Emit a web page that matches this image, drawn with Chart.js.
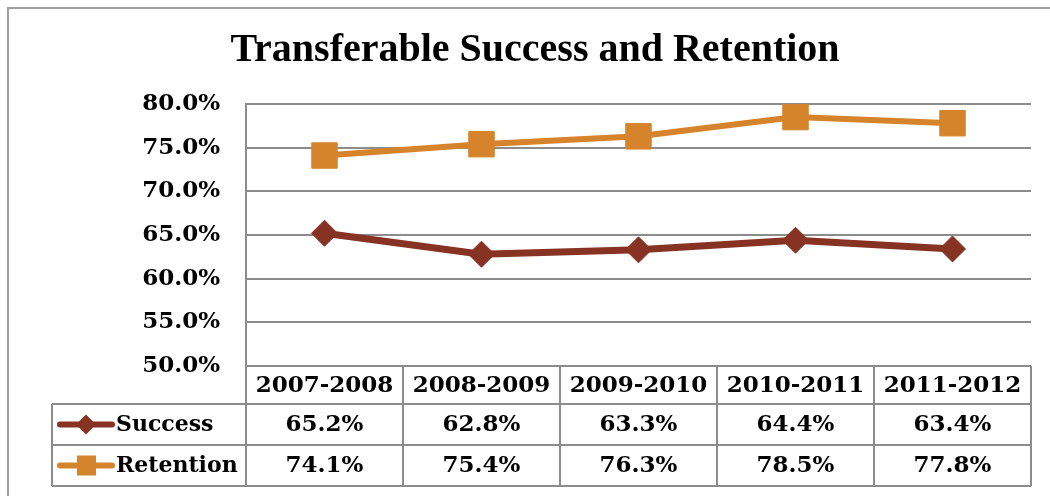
<!DOCTYPE html>
<html>
<head>
<meta charset="utf-8">
<script src="https://cdn.jsdelivr.net/npm/chart.js@4.4.1/dist/chart.umd.min.js"></script>
<style>
  body { margin: 0; background: #fff; }
  #wrap { width: 1050px; height: 496px; }
</style>
</head>
<body>
<div id="wrap"><canvas id="chart" width="1050" height="496"></canvas></div>
<script>
const years = ['2007-2008', '2008-2009', '2009-2010', '2010-2011', '2011-2012'];
const success = [65.2, 62.8, 63.3, 64.4, 63.4];
const retention = [74.1, 75.4, 76.3, 78.5, 77.8];
const yTicks = [50, 55, 60, 65, 70, 75, 80];

const successColor = '#873323';
const retentionColor = '#d5842b';
const gridColor = '#8c8c8c';
const serif = '"DejaVu Serif", serif';

// title, frame and the data table under the plot
const tablePlugin = {
  id: 'dataTable',
  afterDraw(chart) {
    const ctx = chart.ctx;
    const area = chart.chartArea;
    const x = chart.scales.x;
    const colW = (area.right - area.left) / years.length;
    const headTop = area.bottom, headBottom = headTop + 38;
    const rowH = 41;
    const legendLeft = 52;

    ctx.save();
    // outer frame
    ctx.strokeStyle = '#a0a0a0';
    ctx.lineWidth = 2;
    ctx.beginPath();
    ctx.moveTo(8, 496);
    ctx.lineTo(8, 8);
    ctx.lineTo(1050, 8);
    ctx.stroke();

    // title
    ctx.fillStyle = '#000';
    ctx.font = 'bold 40px "Liberation Serif", serif';
    ctx.textAlign = 'center';
    ctx.textBaseline = 'middle';
    ctx.fillText('Transferable Success and Retention', 535, 51);

    // table grid
    ctx.strokeStyle = gridColor;
    ctx.lineWidth = 2;
    ctx.beginPath();
    ctx.moveTo(area.left, headTop);
    ctx.lineTo(area.left, headBottom + 2 * rowH);
    for (let i = 1; i <= years.length; i++) {
      const cx = area.left + i * colW;
      ctx.moveTo(cx, headTop);
      ctx.lineTo(cx, headBottom + 2 * rowH);
    }
    ctx.moveTo(area.left, headTop);
    ctx.lineTo(area.right, headTop);
    ctx.moveTo(legendLeft, headBottom);
    ctx.lineTo(area.right, headBottom);
    ctx.moveTo(legendLeft, headBottom + rowH);
    ctx.lineTo(area.right, headBottom + rowH);
    ctx.moveTo(legendLeft, headBottom + 2 * rowH);
    ctx.lineTo(area.right, headBottom + 2 * rowH);
    ctx.moveTo(legendLeft, headBottom);
    ctx.lineTo(legendLeft, headBottom + 2 * rowH);
    ctx.stroke();

    // header and values
    ctx.fillStyle = '#000';
    ctx.font = 'bold 23px ' + serif;
    ctx.textAlign = 'center';
    years.forEach((y, i) => {
      const cx = x.getPixelForValue(i);
      ctx.fillText(y, cx, (headTop + headBottom) / 2 + 1);
      ctx.fillText(success[i].toFixed(1) + '%', cx, headBottom + rowH / 2 + 1);
      ctx.fillText(retention[i].toFixed(1) + '%', cx, headBottom + rowH * 1.5 + 1);
    });

    // legend keys
    const rows = [
      { label: 'Success', color: successColor, shape: 'diamond' },
      { label: 'Retention', color: retentionColor, shape: 'square' }
    ];
    ctx.font = 'bold 22px ' + serif;
    rows.forEach((r, i) => {
      const cy = headBottom + rowH * (i + 0.5);
      ctx.strokeStyle = r.color;
      ctx.fillStyle = r.color;
      ctx.lineWidth = 6;
      ctx.lineCap = 'round';
      ctx.beginPath();
      ctx.moveTo(60, cy);
      ctx.lineTo(112, cy);
      ctx.stroke();
      ctx.beginPath();
      if (r.shape === 'diamond') {
        ctx.moveTo(86, cy - 10);
        ctx.lineTo(96, cy);
        ctx.lineTo(86, cy + 10);
        ctx.lineTo(76, cy);
        ctx.closePath();
      } else {
        ctx.rect(77, cy - 10, 19, 20);
      }
      ctx.fill();
      ctx.fillStyle = '#000';
      ctx.textAlign = 'left';
      ctx.fillText(r.label, 116, cy + 1);
    });
    ctx.restore();
  }
};

new Chart(document.getElementById('chart'), {
  type: 'line',
  data: {
    labels: years,
    datasets: [
      {
        label: 'Success',
        data: success,
        borderColor: successColor,
        backgroundColor: successColor,
        borderWidth: 7,
        pointStyle: 'rectRot',
        pointRadius: 13,
        pointHoverRadius: 13,
        pointBorderWidth: 1,
        tension: 0
      },
      {
        label: 'Retention',
        data: retention,
        borderColor: retentionColor,
        backgroundColor: retentionColor,
        borderWidth: 6,
        pointStyle: 'rect',
        pointRadius: 18,
        pointHoverRadius: 18,
        pointBorderWidth: 1,
        tension: 0
      }
    ]
  },
  options: {
    responsive: false,
    animation: false,
    layout: { padding: { top: 104, right: 17, bottom: 130, left: 0 } },
    plugins: {
      legend: { display: false },
      title: { display: false },
      tooltip: { enabled: false }
    },
    scales: {
      x: {
        display: false,
        offset: true
      },
      y: {
        min: 50,
        max: 80,
        afterFit(scale) { scale.width = 246; },
        afterBuildTicks(scale) { scale.ticks = yTicks.map(v => ({ value: v })); },
        border: { color: gridColor, width: 2 },
        grid: { color: gridColor, lineWidth: 2, drawTicks: false },
        ticks: {
          padding: 26,
          color: '#000',
          font: { family: serif, size: 23, weight: 'bold' },
          callback: v => v.toFixed(1) + '%'
        }
      }
    }
  },
  plugins: [tablePlugin]
});
</script>
</body>
</html>
